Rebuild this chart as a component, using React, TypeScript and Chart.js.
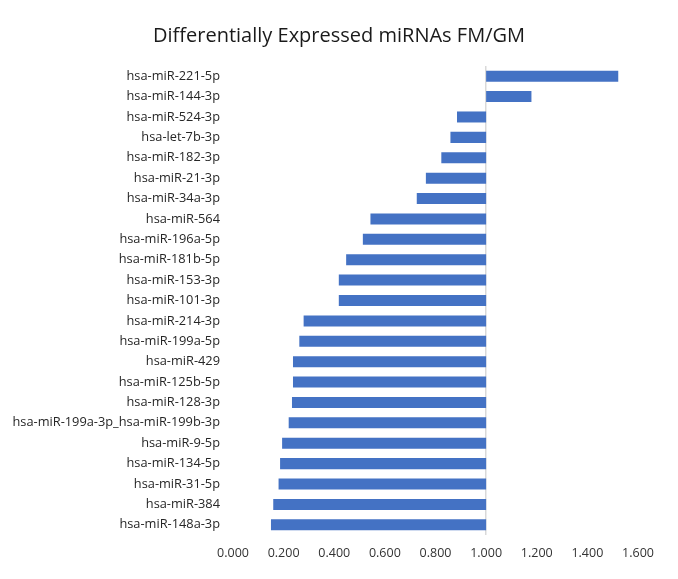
import React, { useEffect, useRef } from "react";
import { Chart, registerables } from "chart.js";

Chart.register(...registerables);

const categories: string[] = [
  "hsa-miR-221-5p",
  "hsa-miR-144-3p",
  "hsa-miR-524-3p",
  "hsa-let-7b-3p",
  "hsa-miR-182-3p",
  "hsa-miR-21-3p",
  "hsa-miR-34a-3p",
  "hsa-miR-564",
  "hsa-miR-196a-5p",
  "hsa-miR-181b-5p",
  "hsa-miR-153-3p",
  "hsa-miR-101-3p",
  "hsa-miR-214-3p",
  "hsa-miR-199a-5p",
  "hsa-miR-429",
  "hsa-miR-125b-5p",
  "hsa-miR-128-3p",
  "hsa-miR-199a-3p_hsa-miR-199b-3p",
  "hsa-miR-9-5p",
  "hsa-miR-134-5p",
  "hsa-miR-31-5p",
  "hsa-miR-384",
  "hsa-miR-148a-3p",
];

const ratios: number[] = [
  1.522, 1.179, 0.885, 0.859, 0.823, 0.762, 0.726, 0.543, 0.513, 0.447, 0.418,
  0.418, 0.279, 0.262, 0.237, 0.237, 0.233, 0.22, 0.194, 0.186, 0.18, 0.159,
  0.15,
];

const baseline = 1;
const xTicks: number[] = [0, 0.2, 0.4, 0.6, 0.8, 1.0, 1.2, 1.4, 1.6];

const FONT = "'Open Sans', 'Liberation Sans', sans-serif";

export default function App() {
  const ref = useRef<HTMLCanvasElement | null>(null);

  useEffect(() => {
    if (!ref.current) return;
    const chart = new Chart(ref.current, {
      type: "bar",
      data: {
        labels: categories,
        datasets: [
          {
            label: "FM/GM",
            data: ratios.map((v) => [baseline, v]) as any,
            backgroundColor: "#4472c4",
            borderWidth: 0,
            categoryPercentage: 0.54,
            barPercentage: 1,
          },
        ],
      },
      options: {
        indexAxis: "y",
        animation: false,
        responsive: true,
        maintainAspectRatio: false,
        layout: { padding: { left: 0, right: 0, top: 16, bottom: 0 } },
        plugins: {
          legend: { display: false },
          tooltip: { enabled: false },
          title: {
            display: true,
            text: "Differentially Expressed miRNAs FM/GM",
            color: "#1a1a1a",
            font: { family: FONT, size: 20, weight: "normal" },
            padding: { top: 0, bottom: 18 },
          },
        },
        scales: {
          x: {
            min: 0,
            max: 1.6,
            afterBuildTicks: (scale: any) => {
              scale.ticks = xTicks.map((v) => ({ value: v }));
            },
            afterFit: (scale: any) => {
              scale.paddingRight = 32;
              scale.paddingLeft = 0;
            },
            ticks: {
              color: "#333333",
              font: { family: FONT, size: 12.5, lineHeight: 0.8 },
              padding: 13,
              callback: (v: any) => Number(v).toFixed(3),
            },
            grid: {
              drawTicks: false,
              color: (ctx: any) =>
                ctx.tick && Math.abs(ctx.tick.value - baseline) < 1e-9
                  ? "#d9d9d9"
                  : "rgba(0,0,0,0)",
              lineWidth: 1.5,
            },
            border: { display: false },
          },
          y: {
            afterFit: (scale: any) => {
              scale.width = 225;
            },
            ticks: {
              color: "#262626",
              font: { family: FONT, size: 12.8 },
              padding: 13,
              autoSkip: false,
            },
            grid: { display: false, drawTicks: false },
            border: { display: false },
          },
        },
      },
    });
    return () => chart.destroy();
  }, []);

  return (
    <div style={{ width: 662, height: 563, position: "relative" }}>
      <canvas ref={ref} />
    </div>
  );
}
